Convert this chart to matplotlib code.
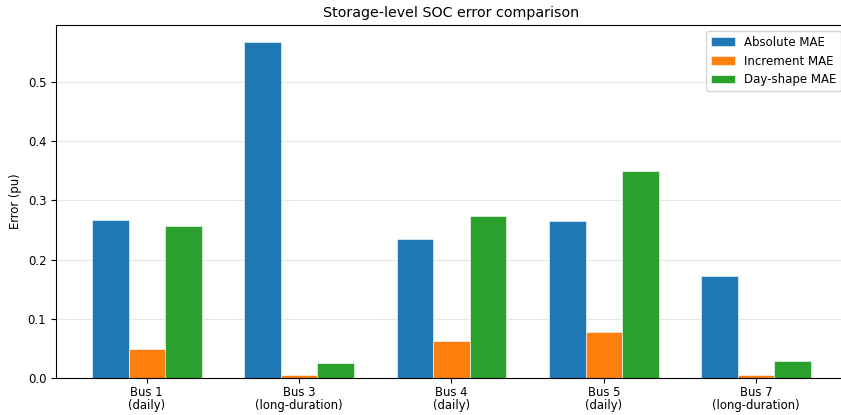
import numpy as np
import matplotlib
matplotlib.use("Agg")
import matplotlib.pyplot as plt

buses = ["Bus 1\n(daily)", "Bus 3\n(long-duration)", "Bus 4\n(daily)",
         "Bus 5\n(daily)", "Bus 7\n(long-duration)"]
absolute_mae = [0.267, 0.568, 0.234, 0.265, 0.172]
increment_mae = [0.049, 0.005, 0.062, 0.077, 0.005]
dayshape_mae = [0.256, 0.025, 0.273, 0.349, 0.028]

series = [
    ("Absolute MAE", absolute_mae, "#1f77b4"),
    ("Increment MAE", increment_mae, "#ff7f0e"),
    ("Day-shape MAE", dayshape_mae, "#2ca02c"),
]

fig = plt.figure(figsize=(8.41, 4.15), dpi=100)
ax = fig.add_axes([56 / 841, 37 / 415, 791 / 841, 353 / 415])

x = np.arange(len(buses))
width = 0.24
for i, (name, vals, color) in enumerate(series):
    ax.bar(x + (i - 1) * width, vals, width, label=name, color=color,
           edgecolor="white", linewidth=0.4)

ax.set_xticks(x)
ax.set_xticklabels(buses, fontsize=8.4, linespacing=0.95)
ax.tick_params(axis="x", pad=2.5)
ax.tick_params(axis="y", labelsize=8.4)
ax.set_ylabel("Error (pu)", fontsize=8.4)
ax.set_title("Storage-level SOC error comparison", fontsize=10.3)
ax.grid(axis="y", alpha=0.3)
ax.set_axisbelow(True)
ax.legend(fontsize=8.5, loc="upper right", bbox_to_anchor=(1.0, 1.0))

fig.savefig("out.png", dpi=100)
